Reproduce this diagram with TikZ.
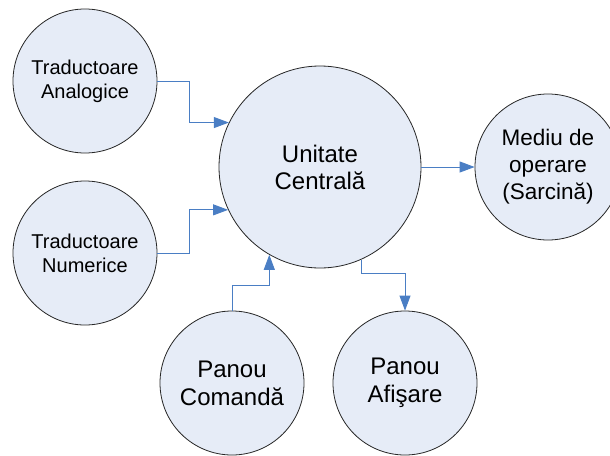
\documentclass[tikz,border=0pt]{standalone}
\usepackage{fontspec}
\setmainfont{Liberation Sans}
\usetikzlibrary{arrows.meta}
\definecolor{bubblefill}{RGB}{230,236,247}
\definecolor{linkblue}{RGB}{74,126,196}
\begin{document}
\begin{tikzpicture}[x=1pt,y=1pt,
  bubble/.style={circle,draw=black!85,line width=0.8pt,fill=bubblefill,
    inner sep=0pt,align=center,text=black},
  small/.style={bubble,minimum size=144pt,font=\fontsize{20}{24}\selectfont},
  big/.style={bubble,minimum size=202pt,font=\fontsize{24}{27}\selectfont},
  mid/.style={bubble,minimum size=146pt,font=\fontsize{22.5}{27}\selectfont},
  panel/.style={bubble,minimum size=144pt,font=\fontsize{24}{28}\selectfont},
  conn/.style={draw=linkblue,line width=0.9pt,
    -{Triangle[length=15pt,width=11pt]}}]
\useasboundingbox (0,0) rectangle (610,-455);
\clip (0,0) rectangle (610,-455);

% units
\node[small] (ta) at (85,-81)  {Traductoare\\Analogice};
\node[small] (tn) at (85,-253) {Traductoare\\Numerice};
\node[big]   (uc) at (320,-167) {Unitate\\Centrală};
\node[mid]   (mo) at (548,-167) {Mediu de\\operare\\(Sarcină)};
\node[panel] (pc) at (232,-383) {Panou\\Comandă};
\node[panel] (pa) at (405,-383) {Panou\\Afişare};

% signal paths
\draw[conn] (ta.east) -- ++(32,0) |- (uc.154.7);
\draw[conn] (tn.east) -- ++(32,0) |- (uc.205.3);
\draw[conn] (pc.north) -- ++(0,25) -| (uc.240.3);
\draw[conn] (uc.294.6) -- ++(0,-14) -| (pa.north);
\draw[conn] (uc.east) -- (mo.west);
\end{tikzpicture}
\end{document}
